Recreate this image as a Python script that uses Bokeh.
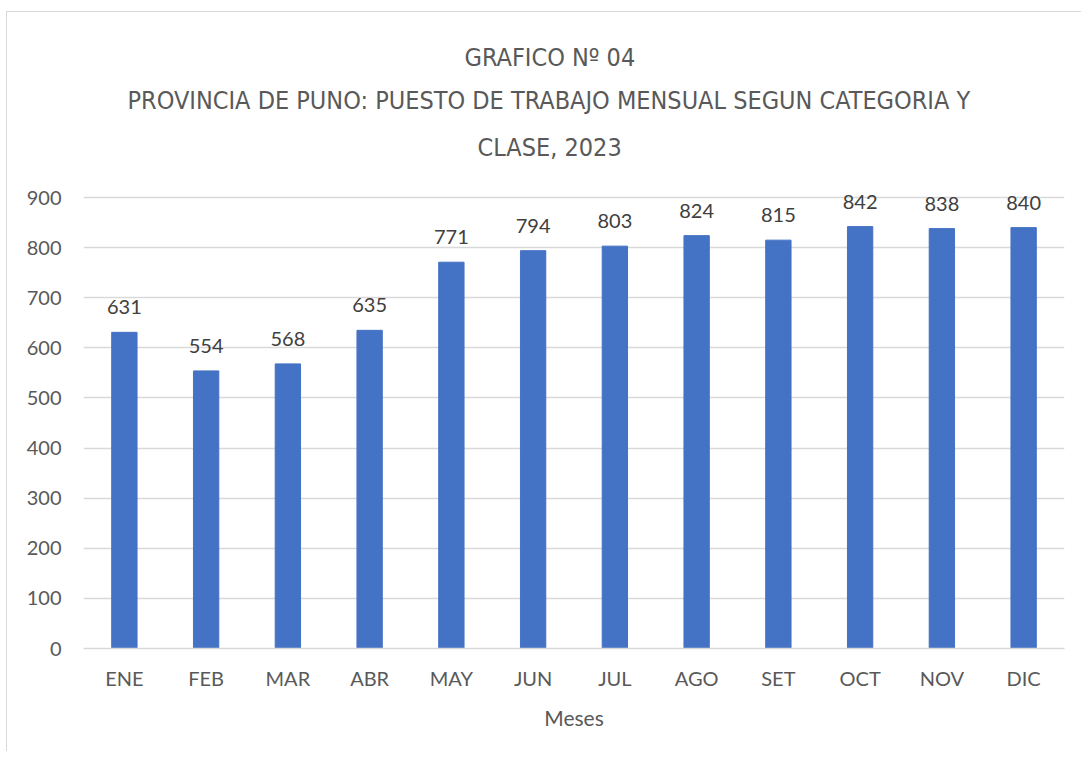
from bokeh.plotting import figure
from bokeh.models import ColumnDataSource, Title, FixedTicker, LabelSet
from bokeh.core.properties import value
from bokeh.embed import file_html
from bokeh.resources import INLINE

meses = ["ENE", "FEB", "MAR", "ABR", "MAY", "JUN", "JUL", "AGO", "SET", "OCT", "NOV", "DIC"]
valores = [631, 554, 568, 635, 771, 794, 803, 824, 815, 842, 838, 840]
y_ticks = [0, 100, 200, 300, 400, 500, 600, 700, 800, 900]
titulo = ["GRAFICO N\u00ba 04",
          "PROVINCIA DE PUNO: PUESTO DE TRABAJO MENSUAL SEGUN CATEGORIA Y",
          "CLASE, 2023"]

src = ColumnDataSource(dict(x=meses, y=valores, lbl=[str(v) for v in valores]))

p = figure(x_range=meses, y_range=(0, 950), width=1075, height=740,
           output_backend="svg", toolbar_location=None,
           min_border_left=76, min_border_right=18, min_border_top=160, min_border_bottom=104)
p.styles = {"border-left": "1px solid #d9d9d9", "border-top": "1px solid #d9d9d9",
            "margin-left": "6px", "margin-top": "11px"}

p.vbar(x="x", top="y", width=0.31, source=src, color="#4472C4")
p.add_layout(LabelSet(x="x", y="y", text="lbl", source=src, text_align="center",
                      text_baseline="bottom", y_offset=18, text_font=value("Lato"),
                      text_font_size="20px", text_color="#404040"))

standoffs = [21, 11, 13]
offsets = [394, 44, 381]
for t, s, o in zip(reversed(titulo), standoffs, offsets):
    p.add_layout(Title(text=t, align="left", text_font="DejaVu Sans Condensed",
                       text_font_size="25px", text_font_style="normal", offset=o,
                       text_color="#595959", standoff=s), "above")

p.outline_line_color = None
p.xgrid.grid_line_color = None
p.ygrid.grid_line_color = "#d9d9d9"
p.ygrid.grid_line_width = 1.5
p.yaxis.ticker = FixedTicker(ticks=y_ticks)
p.yaxis.axis_line_color = None
p.yaxis.major_tick_line_color = None
p.yaxis.minor_tick_line_color = None
p.yaxis.major_label_standoff = 16
p.xaxis.axis_line_color = "#d9d9d9"
p.xaxis.axis_line_width = 1.5
p.xaxis.major_tick_line_color = None
p.xaxis.major_label_standoff = 11
p.xaxis.axis_label = "Meses"
p.xaxis.axis_label_standoff = 12
for ax in (p.xaxis, p.yaxis):
    ax.major_label_text_font = "Lato"
    ax.major_label_text_font_size = "20px"
    ax.major_label_text_color = "#595959"
    ax.axis_label_text_font = "Lato"
    ax.axis_label_text_font_size = "21px"
    ax.axis_label_text_font_style = "normal"
    ax.axis_label_text_color = "#595959"
p.x_range.range_padding = 0

open("out.html", "w").write(file_html(p, INLINE))
